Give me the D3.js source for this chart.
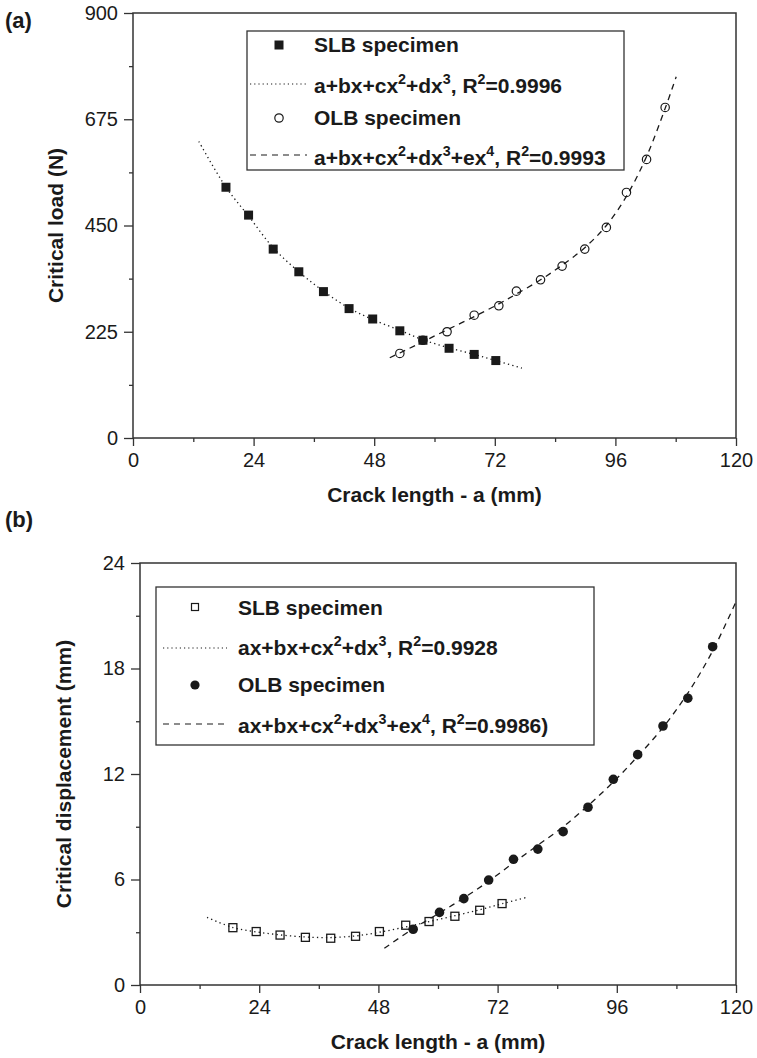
<!DOCTYPE html>
<html><head><meta charset="utf-8">
<script src="https://cdn.jsdelivr.net/npm/d3@7"></script>
<style>
body{margin:0;background:#fff}
svg{display:block}
text{font-family:"Liberation Sans",Arial,Helvetica,sans-serif;fill:#1a1a1a}
</style>
</head><body>
<svg id="c" width="757" height="1058"></svg>
<script>
// ---------- data ----------
const xTicks = [0, 24, 48, 72, 96, 120];
const aYTicks = [0, 225, 450, 675, 900];
const bYTicks = [0, 6, 12, 18, 24];

// Panel (a) critical load (N)
const aSlbX = [18.5, 23.0, 27.9, 33.0, 37.9, 43.0, 47.7, 53.1, 57.7, 62.9, 67.9, 72.2];
const aSlbY = [531, 472, 400, 352, 310, 274, 252, 227, 207, 190, 177, 164];
const aOlbX = [53.1, 57.7, 62.5, 67.9, 72.8, 76.3, 81.1, 85.4, 89.9, 94.2, 98.2, 102.2, 105.9];
const aOlbY = [179, 207, 225, 260, 280, 311, 335, 364, 400, 446, 520, 590, 700];
const aSlbFitX = [13.1, 18.5, 23, 27.9, 33, 37.9, 43, 47.7, 53.1, 57.7, 62.9, 67.9, 72.2, 77.4];
const aSlbFitY = [628, 531, 470, 403, 352, 311, 275, 251, 228, 208, 191, 177, 164, 148];
const aOlbFitX = [51.1, 53.1, 57.7, 62.5, 67.9, 72.8, 76.3, 81.1, 85.4, 89.9, 94.2, 98.2, 102.2, 105.9, 108.1];
const aOlbFitY = [170, 180, 204, 229, 257, 284, 305, 335, 366, 403, 450, 512, 596, 698, 765];

// Panel (b) critical displacement (mm)
const bSlbX = [18.7, 23.4, 28.2, 33.3, 38.4, 43.4, 48.2, 53.5, 58.2, 63.4, 68.4, 72.9];
const bSlbY = [3.26, 3.04, 2.84, 2.71, 2.66, 2.77, 3.04, 3.40, 3.61, 3.91, 4.25, 4.63];
const bOlbX = [55.0, 60.3, 65.2, 70.2, 75.2, 80.1, 85.2, 90.2, 95.3, 100.2, 105.3, 110.3, 115.3];
const bOlbY = [3.17, 4.13, 4.91, 5.97, 7.15, 7.73, 8.72, 10.11, 11.70, 13.10, 14.73, 16.31, 19.24];
const bSlbFitX = [13.5, 18.7, 23.4, 28.2, 33.3, 38.4, 43.4, 48.2, 53.5, 58.2, 63.4, 68.4, 72.9, 77.9];
const bSlbFitY = [3.85, 3.27, 3.02, 2.85, 2.73, 2.70, 2.79, 3.00, 3.30, 3.60, 3.94, 4.28, 4.62, 4.99];
const bOlbFitX = [49.2, 55, 60.3, 65.2, 70.2, 75.2, 80.1, 85.2, 90.2, 95.3, 100.2, 105.3, 110.3, 115.3, 120];
const bOlbFitY = [2.09, 3.2, 4.1, 4.95, 5.9, 6.95, 7.95, 9.0, 10.2, 11.55, 13.0, 14.65, 16.6, 19.0, 21.8];

const aLegend = ["SLB specimen", "a+bx+cx^2+dx^3, R^2=0.9996", "OLB specimen", "a+bx+cx^2+dx^3+ex^4, R^2=0.9993"];
const bLegend = ["SLB specimen", "ax+bx+cx^2+dx^3, R^2=0.9928", "OLB specimen", "ax+bx+cx^2+dx^3+ex^4, R^2=0.9986)"];

// ---------- drawing ----------
const svg = d3.select("#c");
const INK = "#1a1a1a", AX = "#333";

function zip(xs, ys){ return xs.map((x,i)=>[x, ys[i]]); }

function richText(sel, str, fs){
  const parts = str.split(/(\^\d)/).filter(s=>s.length);
  let raised = false;
  parts.forEach(p=>{
    if (p[0] === "^"){
      sel.append("tspan").attr("font-size", fs*0.68).attr("dy", -fs*0.42).text(p.slice(1));
      raised = true;
    } else {
      const t = sel.append("tspan").text(p);
      if (raised){ t.attr("dy", fs*0.42); raised = false; }
    }
  });
}

function panel(cfg){
  const g = svg.append("g");
  const x = d3.scaleLinear().domain([0,120]).range([cfg.left, cfg.right]);
  const y = d3.scaleLinear().domain(cfg.yDomain).range([cfg.bottom, cfg.top]);

  // minor ticks
  const xMinor = d3.range(12, 120, 24);
  const yMinor = d3.range(cfg.yMinor, cfg.yDomain[1], cfg.yMinor*2);
  g.append("g").attr("transform",`translate(0,${cfg.bottom})`)
    .call(d3.axisBottom(x).tickValues(xMinor).tickSize(4).tickFormat(""))
    .call(s=>{s.select(".domain").remove(); s.selectAll("line").attr("stroke",AX).attr("stroke-width",1.3);});
  g.append("g").attr("transform",`translate(${cfg.left},0)`)
    .call(d3.axisLeft(y).tickValues(yMinor).tickSize(4).tickFormat(""))
    .call(s=>{s.select(".domain").remove(); s.selectAll("line").attr("stroke",AX).attr("stroke-width",1.3);});

  // major ticks
  g.append("g").attr("transform",`translate(0,${cfg.bottom})`)
    .call(d3.axisBottom(x).tickValues(xTicks).tickSize(8).tickPadding(7).tickSizeOuter(0))
    .call(s=>{s.select(".domain").remove(); s.selectAll("line").attr("stroke",AX).attr("stroke-width",1.3);
      s.selectAll("text").attr("font-size",20).attr("fill",INK).attr("font-family",null);});
  g.append("g").attr("transform",`translate(${cfg.left},0)`)
    .call(d3.axisLeft(y).tickValues(cfg.yTicks).tickSize(9).tickPadding(6).tickSizeOuter(0))
    .call(s=>{s.select(".domain").remove(); s.selectAll("line").attr("stroke",AX).attr("stroke-width",1.3);
      s.selectAll("text").attr("font-size",20).attr("fill",INK).attr("font-family",null);});

  // frame
  g.append("rect").attr("x",cfg.left).attr("y",cfg.top)
    .attr("width",cfg.right-cfg.left).attr("height",cfg.bottom-cfg.top)
    .attr("fill","none").attr("stroke",AX).attr("stroke-width",1.5);

  // titles
  g.append("text").attr("x",(cfg.left+cfg.right)/2).attr("y",cfg.bottom+64)
    .attr("text-anchor","middle").attr("font-size",21).attr("font-weight","bold").text("Crack length - a (mm)");
  g.append("text").attr("transform",`translate(${cfg.ylabX},${(cfg.top+cfg.bottom)/2}) rotate(-90)`)
    .attr("text-anchor","middle").attr("font-size",21).attr("font-weight","bold").text(cfg.ylabel);
  g.append("text").attr("x",5).attr("y",cfg.tagY).attr("font-size",22).attr("font-weight","bold").text(cfg.tag);

  // curves
  const line = d3.line().x(d=>x(d[0])).y(d=>y(d[1])).curve(d3.curveCatmullRom.alpha(0.5));
  g.append("path").datum(zip(cfg.slbFitX,cfg.slbFitY)).attr("d",line)
    .attr("fill","none").attr("stroke",INK).attr("stroke-width",1.3).attr("stroke-dasharray","1.3,3.2");
  g.append("path").datum(zip(cfg.olbFitX,cfg.olbFitY)).attr("d",line)
    .attr("fill","none").attr("stroke",INK).attr("stroke-width",1.3).attr("stroke-dasharray","6,5");

  // markers
  const slb = zip(cfg.slbX,cfg.slbY), olb = zip(cfg.olbX,cfg.olbY);
  if (cfg.slbFilled){
    g.selectAll(".sq").data(slb).join("rect").attr("x",d=>x(d[0])-4.5).attr("y",d=>y(d[1])-4.5)
      .attr("width",9).attr("height",9).attr("fill",INK);
    g.selectAll(".ci").data(olb).join("circle").attr("cx",d=>x(d[0])).attr("cy",d=>y(d[1])).attr("r",4.2)
      .attr("fill","none").attr("stroke",INK).attr("stroke-width",1.2);
  } else {
    g.selectAll(".sq").data(slb).join("rect").attr("x",d=>x(d[0])-4).attr("y",d=>y(d[1])-4)
      .attr("width",8).attr("height",8).attr("fill","none").attr("stroke",INK).attr("stroke-width",1.3);
    g.selectAll(".ci").data(olb).join("circle").attr("cx",d=>x(d[0])).attr("cy",d=>y(d[1])).attr("r",4.8)
      .attr("fill",INK);
  }

  // legend
  const L = cfg.legend;
  g.append("rect").attr("x",L.x0).attr("y",L.y0).attr("width",L.x1-L.x0).attr("height",L.y1-L.y0)
    .attr("fill","#fff").attr("stroke",AX).attr("stroke-width",1.3);
  if (cfg.slbFilled){
    g.append("rect").attr("x",L.mx-4.5).attr("y",L.rowY[0]-4.5).attr("width",9).attr("height",9).attr("fill",INK);
    g.append("circle").attr("cx",L.mx).attr("cy",L.rowY[2]).attr("r",4.2).attr("fill","none").attr("stroke",INK).attr("stroke-width",1.2);
  } else {
    g.append("rect").attr("x",L.mx-3.5).attr("y",L.rowY[0]-3.5).attr("width",7).attr("height",7).attr("fill","none").attr("stroke",INK).attr("stroke-width",1.2);
    g.append("circle").attr("cx",L.mx).attr("cy",L.rowY[2]).attr("r",4.6).attr("fill",INK);
  }
  g.append("line").attr("x1",L.lx0).attr("x2",L.lx1).attr("y1",L.rowY[1]).attr("y2",L.rowY[1])
    .attr("stroke",INK).attr("stroke-width",1.2).attr("stroke-dasharray","1.2,3");
  g.append("line").attr("x1",L.lx0).attr("x2",L.lx1).attr("y1",L.rowY[3]).attr("y2",L.rowY[3])
    .attr("stroke",INK).attr("stroke-width",1.2).attr("stroke-dasharray","6,5");
  cfg.legendText.forEach((s,i)=>{
    const t = g.append("text").attr("x",L.tx).attr("y",L.base[i]).attr("font-size",21).attr("font-weight","bold");
    richText(t, s, 21);
  });
}

panel({
  left:133, right:736, top:13, bottom:438, yDomain:[0,900], yTicks:aYTicks, yMinor:112.5,
  ylabel:"Critical load (N)", ylabX:63, tag:"(a)", tagY:28,
  slbX:aSlbX, slbY:aSlbY, olbX:aOlbX, olbY:aOlbY,
  slbFitX:aSlbFitX, slbFitY:aSlbFitY, olbFitX:aOlbFitX, olbFitY:aOlbFitY, slbFilled:true,
  legend:{x0:247, y0:31, x1:624, y1:170, mx:279, lx0:250, lx1:307, tx:314,
          rowY:[45, 84, 118, 155], base:[52, 93, 125, 165]},
  legendText:aLegend
});
panel({
  left:140, right:736, top:563, bottom:985, yDomain:[0,24], yTicks:bYTicks, yMinor:3,
  ylabel:"Critical displacement (mm)", ylabX:71, tag:"(b)", tagY:527,
  slbX:bSlbX, slbY:bSlbY, olbX:bOlbX, olbY:bOlbY,
  slbFitX:bSlbFitX, slbFitY:bSlbFitY, olbFitX:bOlbFitX, olbFitY:bOlbFitY, slbFilled:false,
  legend:{x0:156, y0:587, x1:594, y1:745, mx:195, lx0:163, lx1:227, tx:238,
          rowY:[607, 648, 685, 724], base:[615, 655, 692, 733]},
  legendText:bLegend
});
</script>
</body></html>
